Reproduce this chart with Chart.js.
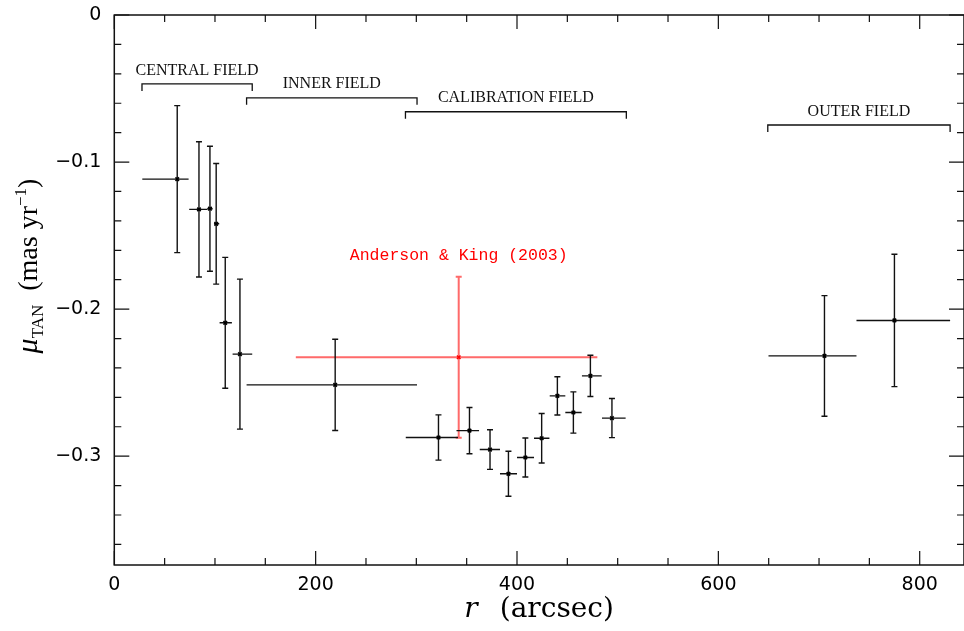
<!DOCTYPE html>
<html>
<head>
<meta charset="utf-8">
<title>Tangential proper motion vs radius</title>
<script src="https://cdn.jsdelivr.net/npm/chart.js@4.4.1/dist/chart.umd.min.js"></script>
<style>
  body { margin: 0; background: #fff; }
  #wrap { width: 964px; height: 631px; }
</style>
</head>
<body>
<div id="wrap"><canvas id="pmChart"></canvas></div>
<script>
// binned measurements: radius (arcsec), bin edges, mu_TAN and its error (mas/yr)
const radius   = [62.5, 84.1, 95.0, 101.2, 110.2, 124.8, 219.4, 322.0, 352.8, 373.2, 391.5, 408.3, 424.5, 440.1, 456.0, 472.9, 494.3, 705.4, 774.9];
const radiusLo = [27.8, 74.4, 92.3, 99.0, 104.6, 117.5, 131.4, 289.5, 339.9, 363.0, 383.1, 400.0, 416.9, 432.5, 448.0, 464.5, 484.4, 649.8, 737.2];
const radiusHi = [73.8, 92.3, 97.7, 104.2, 116.8, 137.0, 300.7, 341.4, 362.3, 383.1, 400.0, 416.9, 432.2, 448.0, 464.2, 484.1, 507.9, 737.2, 830.2];
const muTan    = [-0.1116, -0.1322, -0.1317, -0.142, -0.2093, -0.2306, -0.2515, -0.2873, -0.2826, -0.2955, -0.312, -0.3009, -0.2878, -0.259, -0.2703, -0.2454, -0.2741, -0.2318, -0.2077];
const muErr    = [0.050, 0.046, 0.0425, 0.041, 0.0445, 0.051, 0.031, 0.0154, 0.0157, 0.0135, 0.0153, 0.0133, 0.0168, 0.013, 0.014, 0.014, 0.0133, 0.041, 0.045];

// Anderson & King (2003)
const akRadius = [342.1];
const akLo     = [180.3];
const akHi     = [479.8];
const akMu     = [-0.2327];
const akErr    = [0.0547];
const akLabel  = 'Anderson & King (2003)';

// field coverage brackets
const fieldNames = ['CENTRAL FIELD', 'INNER FIELD', 'CALIBRATION FIELD', 'OUTER FIELD'];
const fieldFrom  = [27.5, 131.4, 289.2, 649.1];
const fieldTo    = [137.0, 300.7, 508.6, 830.2];
const fieldLevel = [-0.0469, -0.0563, -0.0658, -0.0748];

const xTickStep = 50, xMajor = 200;
const yTickStep = 0.02, yMajor = 0.1;

function isMajor(v, step) {
  const q = v / step;
  return Math.abs(q - Math.round(q)) < 1e-6;
}

// box + inward ticks on all four sides
const frame = {
  id: 'frame',
  beforeDatasetsDraw(chart) {
    const { ctx, chartArea: a, scales: { x, y } } = chart;
    ctx.save();
    ctx.strokeStyle = '#111';
    ctx.lineWidth = 1.5;
    ctx.strokeRect(a.left, a.top, a.right - a.left, a.bottom - a.top);
    ctx.lineWidth = 1.2;
    ctx.beginPath();
    x.ticks.forEach(t => {
      const px = x.getPixelForValue(t.value);
      const len = isMajor(t.value, xMajor) ? 14 : 7;
      ctx.moveTo(px, a.bottom); ctx.lineTo(px, a.bottom - len);
      ctx.moveTo(px, a.top);    ctx.lineTo(px, a.top + len);
    });
    y.ticks.forEach(t => {
      const py = y.getPixelForValue(t.value);
      const len = isMajor(t.value, yMajor) ? 15 : 7;
      ctx.moveTo(a.left, py);  ctx.lineTo(a.left + len, py);
      ctx.moveTo(a.right, py); ctx.lineTo(a.right - len, py);
    });
    ctx.stroke();
    ctx.restore();
  }
};

function drawBars(ctx, x, y, xs, lo, hi, ys, err) {
  ctx.beginPath();
  xs.forEach((r, i) => {
    const px = x.getPixelForValue(r);
    const py = y.getPixelForValue(ys[i]);
    const top = y.getPixelForValue(ys[i] + err[i]);
    const bot = y.getPixelForValue(ys[i] - err[i]);
    ctx.moveTo(x.getPixelForValue(lo[i]), py);
    ctx.lineTo(x.getPixelForValue(hi[i]), py);
    ctx.moveTo(px, top); ctx.lineTo(px, bot);
    ctx.moveTo(px - 3, top); ctx.lineTo(px + 3, top);
    ctx.moveTo(px - 3, bot); ctx.lineTo(px + 3, bot);
  });
  ctx.stroke();
}

const errorBars = {
  id: 'errorBars',
  beforeDatasetsDraw(chart) {
    const { ctx, scales: { x, y } } = chart;
    ctx.save();
    ctx.strokeStyle = '#ff6a6a';
    ctx.lineWidth = 2;
    drawBars(ctx, x, y, akRadius, akLo, akHi, akMu, akErr);
    ctx.strokeStyle = '#111';
    ctx.lineWidth = 1.4;
    drawBars(ctx, x, y, radius, radiusLo, radiusHi, muTan, muErr);

    // field brackets
    ctx.lineWidth = 1.3;
    ctx.beginPath();
    fieldNames.forEach((n, i) => {
      const x1 = x.getPixelForValue(fieldFrom[i]);
      const x2 = x.getPixelForValue(fieldTo[i]);
      const py = y.getPixelForValue(fieldLevel[i]);
      ctx.moveTo(x1, py + 7); ctx.lineTo(x1, py); ctx.lineTo(x2, py); ctx.lineTo(x2, py + 7);
    });
    ctx.stroke();
    ctx.restore();
  }
};

// text: field names, reference label, axis titles
const labels = {
  id: 'labels',
  afterDraw(chart) {
    const { ctx, chartArea: a, scales: { x, y } } = chart;
    ctx.save();
    ctx.fillStyle = '#111';
    ctx.textAlign = 'center';
    ctx.textBaseline = 'middle';
    ctx.font = '16px "Liberation Serif"';
    fieldNames.forEach((n, i) => {
      const cx = (x.getPixelForValue(fieldFrom[i]) + x.getPixelForValue(fieldTo[i])) / 2;
      ctx.fillText(n, cx, y.getPixelForValue(fieldLevel[i]) - 13.5);
    });

    ctx.fillStyle = '#ff0000';
    ctx.font = '16.5px "Liberation Mono"';
    ctx.fillText(akLabel, x.getPixelForValue(akRadius[0]), y.getPixelForValue(akMu[0] + akErr[0]) - 21);

    // x title: r (arcsec)
    ctx.fillStyle = '#000';
    ctx.textAlign = 'left';
    ctx.textBaseline = 'alphabetic';
    const big = 28, small = 17;
    const xr = '(arcsec)';
    ctx.font = 'italic ' + big + 'px "DejaVu Serif"';
    const wr = ctx.measureText('r').width;
    ctx.font = big + 'px "DejaVu Serif"';
    const wa = ctx.measureText(xr).width;
    const gap = 22;
    let sx = (a.left + a.right) / 2 - (wr + gap + wa) / 2;
    const by = a.bottom + 52;
    ctx.font = 'italic ' + big + 'px "DejaVu Serif"';
    ctx.fillText('r', sx, by);
    ctx.font = big + 'px "DejaVu Serif"';
    ctx.fillText(xr, sx + wr + gap, by);

    // y title: mu_TAN (mas yr^-1)
    const parts = [
      { t: '\u03bc', f: 'italic 30px "Liberation Serif"', dy: 0 },
      { t: 'TAN', f: small + 'px "Liberation Serif"', dy: 6 },
      { t: '  (mas yr', f: big + 'px "Liberation Serif"', dy: 0 },
      { t: '\u22121', f: small + 'px "Liberation Serif"', dy: -11 },
      { t: ')', f: big + 'px "Liberation Serif"', dy: 0 }
    ];
    let total = 0;
    parts.forEach(p => { ctx.font = p.f; p.w = ctx.measureText(p.t).width; total += p.w; });
    ctx.translate(37, 266);
    ctx.rotate(-Math.PI / 2);
    let px = -total / 2;
    parts.forEach(p => { ctx.font = p.f; ctx.fillText(p.t, px, p.dy); px += p.w; });
    ctx.restore();
  }
};

new Chart(document.getElementById('pmChart'), {
  type: 'scatter',
  data: {
    datasets: [
      {
        data: radius.map((r, i) => ({ x: r, y: muTan[i] })),
        pointStyle: 'crossRot',
        radius: 2.5,
        borderColor: '#000',
        borderWidth: 1.6,
        backgroundColor: '#000'
      },
      {
        data: akRadius.map((r, i) => ({ x: r, y: akMu[i] })),
        pointStyle: 'crossRot',
        radius: 2.5,
        borderColor: '#ff0000',
        borderWidth: 1.5,
        backgroundColor: '#ff0000'
      }
    ]
  },
  options: {
    responsive: true,
    maintainAspectRatio: false,
    animation: false,
    layout: { autoPadding: false, padding: { top: 15, right: 0, left: 0, bottom: 0 } },
    plugins: { legend: { display: false }, tooltip: { enabled: false } },
    scales: {
      x: {
        type: 'linear',
        min: 0,
        max: 844,
        border: { display: false },
        grid: { display: false, drawTicks: false },
        ticks: {
          stepSize: xTickStep,
          autoSkip: false,
          maxRotation: 0,
          includeBounds: false,
          padding: 9,
          color: '#000',
          font: { family: 'DejaVu Sans', size: 19 },
          callback: v => isMajor(v, xMajor) ? String(v) : ''
        },
        afterFit: s => { s.height = 66; s.paddingLeft = 0; s.paddingRight = 0; }
      },
      y: {
        type: 'linear',
        min: -0.374,
        max: 0,
        border: { display: false },
        grid: { display: false, drawTicks: false },
        ticks: {
          stepSize: yTickStep,
          autoSkip: false,
          includeBounds: false,
          padding: 13,
          color: '#000',
          font: { family: 'DejaVu Sans', size: 19 },
          callback: v => !isMajor(v, yMajor) ? '' : (Math.abs(v) < 1e-9 ? '0' : '\u2212' + Math.abs(v).toFixed(1))
        },
        afterFit: s => { s.width = 114.3; s.paddingTop = 0; s.paddingBottom = 0; }
      }
    }
  },
  plugins: [frame, errorBars, labels]
});
</script>
</body>
</html>
